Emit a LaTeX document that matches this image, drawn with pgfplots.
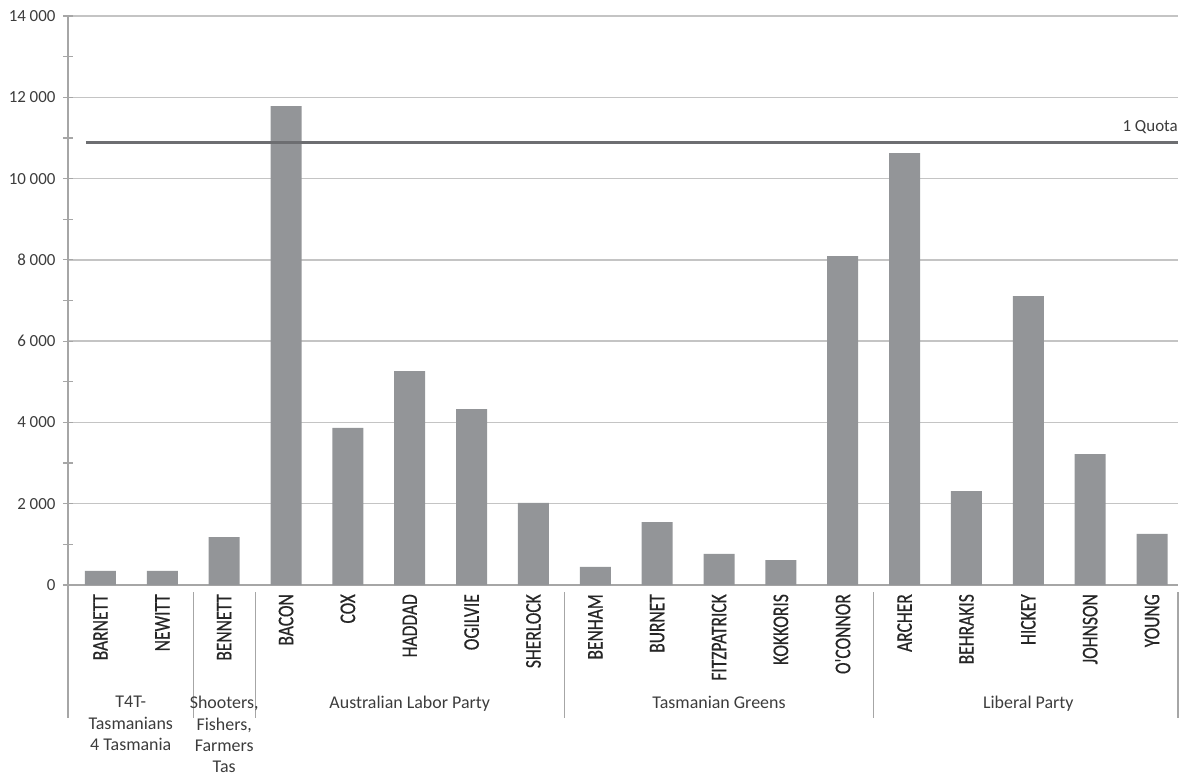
\documentclass[border=0pt]{standalone}
\usepackage{pgfplots}
\pgfplotsset{compat=1.18}
\usepackage{fontspec}
\setmainfont{Carlito}
\newfontfamily\condfont[FakeStretch=0.78,FakeBold=0.5]{Carlito}
\definecolor{barc}{HTML}{939598}
\definecolor{quotac}{HTML}{6D6E71}
\definecolor{gridc}{HTML}{C4C4C4}
\definecolor{axc}{HTML}{A6A6A6}
\definecolor{txt}{HTML}{3C3C3C}
\begin{document}
\begin{tikzpicture}
\useasboundingbox (-68bp,-196bp) rectangle (1117bp,585bp);
\begin{axis}[
  at={(0,0)}, anchor=south west,
  scale only axis, width=1110bp, height=569bp,
  xmin=-0.525, xmax=17.42, ymin=0, ymax=14000,
  clip=false,
  axis lines*=left,
  axis line style={axc, line width=1.2bp},
  ytick={0,2000,...,14000},
  minor ytick={1000,3000,...,13000},
  ymajorgrids,
  major grid style={gridc, line width=1.5bp},
  tick align=center,
  major tick length=10bp, minor tick length=10bp,
  ytick style={axc, line width=1.2bp},
  xtick={0,...,17},
  xtick style={draw=none},
  xticklabels={BARNETT,NEWITT,BENNETT,BACON,COX,HADDAD,OGILVIE,SHERLOCK,BENHAM,BURNET,FITZPATRICK,KOKKORIS,O'CONNOR,ARCHER,BEHRAKIS,HICKEY,JOHNSON,YOUNG},
  xticklabel style={rotate=90, anchor=east, font=\condfont\fontsize{22.5}{22.5}\selectfont, text=black!85, inner sep=4bp},
  yticklabel style={font=\fontsize{17}{17}\selectfont, text=txt, xshift=-4bp},
  /pgf/number format/assume math mode=true,
  /pgf/number format/1000 sep={\hspace{0.22em}},
  scaled y ticks=false,
]
\addplot[ybar, bar width=31bp, fill=barc, draw=none] coordinates {
  (0,345) (1,345) (2,1180) (3,11785) (4,3863) (5,5265) (6,4330) (7,2018)
  (8,443) (9,1550) (10,763) (11,615) (12,8094)
  (13,10627) (14,2312) (15,7110) (16,3223) (17,1255)
};
\addplot[quotac, line width=3bp] coordinates {(-0.234,10880) (17.42,10880)};
\node[anchor=base east, inner sep=0pt, yshift=11bp, font=\fontsize{17}{17}\selectfont, text=txt] at (axis cs:17.42,10880) {1 Quota};
% group separators
\draw[axc, line width=1.2bp] (axis cs:-0.525,0) -- ([yshift=-133bp]axis cs:-0.525,0);
\draw[axc, line width=1.2bp] ([yshift=-7bp]axis cs:1.5,0) -- ([yshift=-133bp]axis cs:1.5,0);
\draw[axc, line width=1.2bp] ([yshift=-7bp]axis cs:2.5,0) -- ([yshift=-133bp]axis cs:2.5,0);
\draw[axc, line width=1.2bp] ([yshift=-7bp]axis cs:7.5,0) -- ([yshift=-133bp]axis cs:7.5,0);
\draw[axc, line width=1.2bp] ([yshift=-7bp]axis cs:12.5,0) -- ([yshift=-133bp]axis cs:12.5,0);
\draw[axc, line width=1.2bp] ([yshift=-7bp]axis cs:17.42,0) -- ([yshift=-133bp]axis cs:17.42,0);
% group labels
\begin{scope}[every node/.style={anchor=north, align=center, inner sep=0pt, yshift=-111bp, font=\fontsize{18}{21.5}\selectfont, text=txt}]
\node at (axis cs:0.49,0) {T4T-\\Tasmanians\\4 Tasmania};
\node at (axis cs:2,0) {Shooters,\\Fishers,\\Farmers\\Tas};
\node at (axis cs:5,0) {Australian Labor Party};
\node at (axis cs:10,0) {Tasmanian Greens};
\node at (axis cs:15,0) {Liberal Party};
\end{scope}
\end{axis}
\end{tikzpicture}
\end{document}
